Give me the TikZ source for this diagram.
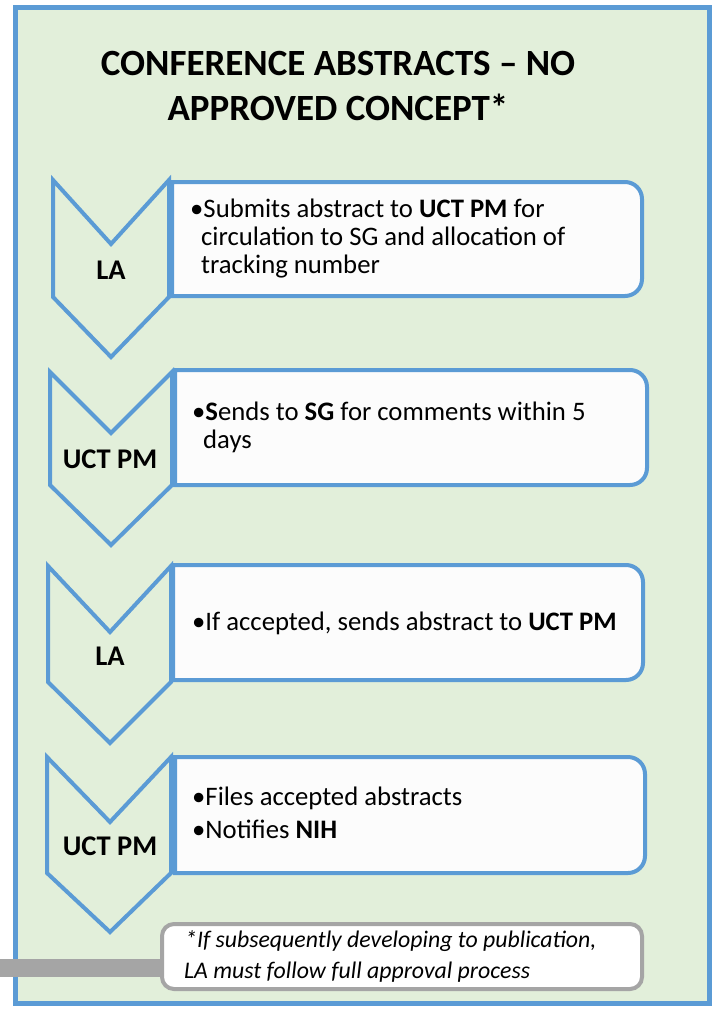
\documentclass[tikz,border=0pt]{standalone}
\usepackage{fontspec}
\setmainfont{Carlito}
\definecolor{frameblue}{HTML}{5B9BD5}
\definecolor{panelgreen}{HTML}{E2EFDA}
\definecolor{notegray}{HTML}{A5A5A5}
\definecolor{boxwhite}{HTML}{FCFCFC}
\tikzset{
  chevshape/.style={draw=frameblue, line width=4pt, line join=miter, fill=panelgreen},
  stepbox/.style={draw=frameblue, line width=4pt, fill=boxwhite},
  chevlabel/.style={anchor=base, inner sep=0pt, font=\fontsize{28.5}{32}\selectfont\bfseries},
  boxtext/.style={anchor=base west, inner sep=0pt, font=\fontsize{26.7}{30}\selectfont},
  titletext/.style={anchor=base, inner sep=0pt, font=\fontsize{37}{45}\selectfont\bfseries},
  notetext/.style={anchor=base west, inner sep=0pt, font=\fontsize{23.8}{28}\selectfont\itshape},
}
\newcommand{\stepboxpath}[4]{% L T R B
  \draw[stepbox] (#1,#2) -- ({#3-17},#2) arc[start angle=-90,end angle=0,radius=17]
    -- (#3,{#4-17}) arc[start angle=0,end angle=90,radius=17] -- (#1,#4) -- cycle;}
\newcommand{\chevpath}[7]{% L C R Top Notch Shoulder Tip
  \draw[chevshape] (#1,#4) -- (#2,#5) -- (#3,#4) -- (#3,#6) -- (#2,#7) -- (#1,#6) -- cycle;}
\begin{document}
\begin{tikzpicture}[x=1pt,y=-1pt]
\useasboundingbox (0,0) rectangle (717,1009);
\fill[white] (0,0) rectangle (717,1009);
% outer panel
\draw[draw=frameblue, fill=panelgreen, line width=5pt] (15,7) rectangle (709,1003);
% title
\node[titletext] (title1) at (338,75) {CONFERENCE ABSTRACTS – NO};
\node[titletext] (title2) at (338,120) {APPROVED CONCEPT*};
% step 1
\chevpath{53}{111}{169}{180}{244}{297}{357}
\stepboxpath{172}{182}{642}{296}
\node[chevlabel] (c1) at (111,279) {LA};
\node[boxtext] (t1a) at (190,217) {•Submits abstract to \textbf{UCT PM} for};
\node[boxtext] (t1b) at (201,245) {circulation to SG and allocation of};
\node[boxtext] (t1c) at (201,273) {tracking number};
% step 2
\chevpath{50}{111}{172}{372}{433}{485}{545}
\stepboxpath{175}{370}{647}{485}
\node[chevlabel] (c2) at (110,468) {UCT PM};
\node[boxtext] (t2a) at (192,420) {•\textbf{S}ends to \textbf{SG} for comments within 5};
\node[boxtext] (t2b) at (203,448) {days};
% step 3
\chevpath{48}{110}{171}{566}{632}{682}{743}
\stepboxpath{173}{565}{643}{680}
\node[chevlabel] (c3) at (110,665) {LA};
\node[boxtext] (t3a) at (192,630) {•If accepted, sends abstract to \textbf{UCT PM}};
% step 4
\chevpath{47}{110}{171}{757}{822}{873}{932}
\stepboxpath{175}{757}{645}{873}
\node[chevlabel] (c4) at (110,855) {UCT PM};
\node[boxtext] (t4a) at (192,805) {•Files accepted abstracts};
\node[boxtext] (t4b) at (192,838) {•Notifies \textbf{NIH}};
% footnote
\fill[notegray] (0,959) rectangle (164,977);
\draw[draw=notegray, fill=white, line width=4pt, rounded corners=12pt] (162,924) rectangle (642,989);
\node[notetext] (n1) at (185,947) {*If subsequently developing to publication,};
\node[notetext] (n2) at (184,978) {LA must follow full approval process};
\end{tikzpicture}
\end{document}
